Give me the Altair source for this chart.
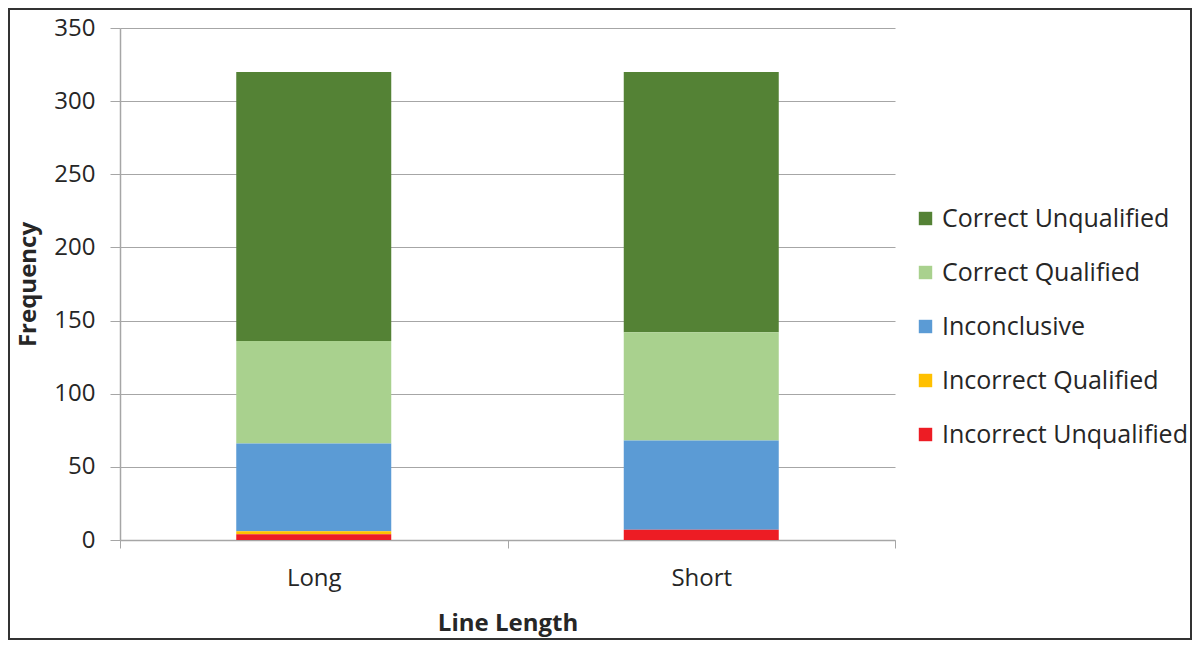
import pandas as pd
import altair as alt

# values
lengths = ["Long", "Short"]
outcomes = ["Correct Unqualified", "Correct Qualified", "Inconclusive",
            "Incorrect Qualified", "Incorrect Unqualified"]
colours = ["#548235", "#A9D18E", "#5B9BD5", "#FFC000", "#ED1C24"]
long_counts = [184, 70, 60, 2, 4]
short_counts = [178, 74, 61, 0, 7]

rows = []
for length, counts in zip(lengths, [long_counts, short_counts]):
    for i, (outcome, n) in enumerate(zip(outcomes, counts)):
        rows.append({"length": length, "outcome": outcome, "count": n,
                     "stack": len(outcomes) - i})
df = pd.DataFrame(rows)

FONT = "Open Sans"
GREY = "#A6A6A6"
TEXT = "#262626"

bars = alt.Chart(df).mark_bar(size=155).encode(
    x=alt.X("length:N", title="Line Length",
            scale=alt.Scale(paddingInner=0, paddingOuter=0),
            axis=alt.Axis(labelAngle=0, tickBand="extent", tickSize=8,
                          labelPadding=18, titlePadding=21)),
    y=alt.Y("count:Q", title="Frequency", stack="zero",
            scale=alt.Scale(domain=[0, 350], nice=False),
            axis=alt.Axis(values=list(range(0, 351, 50)), tickSize=10,
                          labelPadding=15, titlePadding=13)),
    color=alt.Color("outcome:N", title=None,
                    scale=alt.Scale(domain=outcomes, range=colours),
                    legend=alt.Legend(orient="none", legendX=793, legendY=178,
                                      symbolType="square", symbolSize=180,
                                      symbolStrokeWidth=0, rowPadding=28,
                                      labelFontSize=25, labelFont=FONT,
                                      labelColor=TEXT, labelLimit=400,
                                      labelOffset=4)),
    order=alt.Order("stack:Q", sort="ascending"),
)

# thin dark frame round the whole figure
frame = alt.Chart(df).mark_rect(fill=None, stroke="#333333", strokeWidth=2).encode(
    x=alt.value(-111), x2=alt.value(1071), y=alt.value(-19), y2=alt.value(611)
)

chart = alt.layer(bars, frame).properties(
    width=775,
    height=512,
    autosize=alt.AutoSizeParams(type="none"),
    padding={"left": 112, "top": 20, "right": 297, "bottom": 100},
).configure_view(
    stroke=None
).configure_axis(
    labelFont=FONT, titleFont=FONT, labelFontSize=24, titleFontSize=24,
    labelColor=TEXT, titleColor=TEXT, titleFontWeight="bold",
    domainColor=GREY, tickColor=GREY, gridColor=GREY, domainWidth=1.5,
    gridWidth=1.2,
).configure_axisX(
    grid=False
)

chart.save("out.html", embed_options={"renderer": "svg", "actions": False})
